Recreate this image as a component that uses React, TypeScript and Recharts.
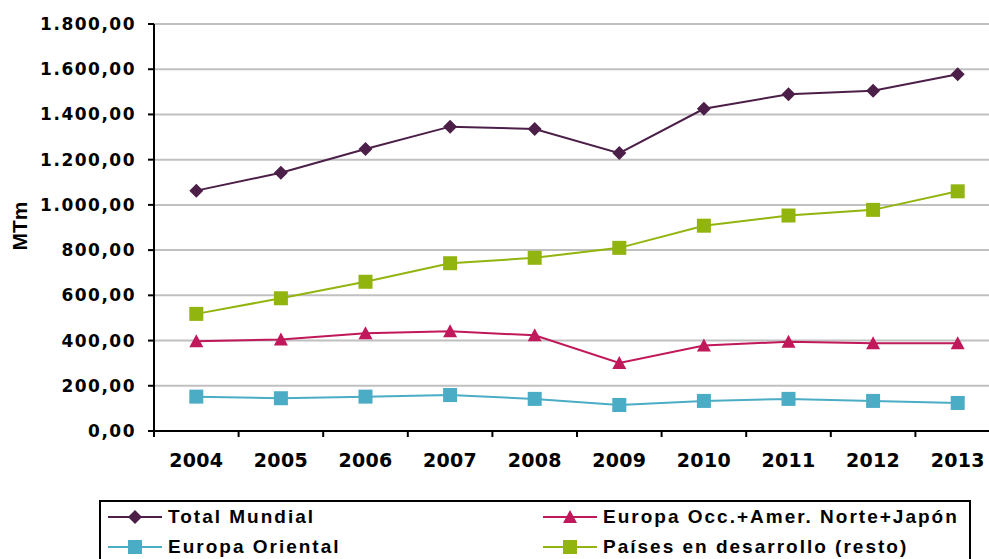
import { LineChart, Line, XAxis, YAxis, CartesianGrid } from 'recharts';

const years = ['2004', '2005', '2006', '2007', '2008', '2009', '2010', '2011', '2012', '2013'];
const totalMundial = [1063, 1142, 1247, 1346, 1336, 1229, 1425, 1489, 1505, 1578];
const europaOcc = [397, 405, 432, 441, 423, 301, 378, 395, 388, 388];
const europaOriental = [152, 145, 152, 159, 142, 115, 133, 142, 133, 124];
const paisesDesarrollo = [518, 587, 660, 742, 766, 810, 908, 953, 978, 1060];
const yTicks = [0, 200, 400, 600, 800, 1000, 1200, 1400, 1600, 1800];

const C_TOTAL = '#4b1f48';
const C_OCC = '#c0185a';
const C_ORI = '#4bacc6';
const C_DES = '#92b40e';

const chartData = years.map((year, i) => ({
  year,
  total: totalMundial[i],
  occ: europaOcc[i],
  ori: europaOriental[i],
  des: paisesDesarrollo[i],
}));

// 1.800,00 style (Spanish/European format, grouping always on)
const formatEs = (v: number): string => {
  const [int, dec] = v.toFixed(2).split('.');
  return int.replace(/\B(?=(\d{3})+(?!\d))/g, '.') + ',' + dec;
};

const FONT = '"DejaVu Sans", Verdana, sans-serif';
const HALF_BAND = 42.3; // half the category width, ticks sit between years
const TICK_MARGIN = 8;

const Diamond = ({ cx, cy, color }: any) => (
  <polygon points={`${cx},${cy - 7} ${cx + 7},${cy} ${cx},${cy + 7} ${cx - 7},${cy}`} fill={color} />
);
const Square = ({ cx, cy, color }: any) => (
  <rect x={cx - 7} y={cy - 7} width={14} height={14} fill={color} />
);
const Triangle = ({ cx, cy, color }: any) => (
  <polygon points={`${cx},${cy - 7} ${cx + 7},${cy + 6} ${cx - 7},${cy + 6}`} fill={color} />
);

const YearTick = ({ x, y, payload }: any) => {
  const axisY = y - 6 - TICK_MARGIN;
  return (
    <g>
      <line x1={x - HALF_BAND} y1={axisY} x2={x - HALF_BAND} y2={axisY + 6} stroke="#000" strokeWidth={2} />
      <text
        x={x}
        y={y + 9}
        dy="0.71em"
        textAnchor="middle"
        fill="#000"
        fontFamily={FONT}
        fontWeight="bold"
        fontSize={19}
        letterSpacing={0.3}
      >
        {payload.value}
      </text>
    </g>
  );
};

const LegendItem = ({ label, color, Marker }: any) => (
  <div style={{ display: 'flex', alignItems: 'center', height: 30 }}>
    <svg width={54} height={16} style={{ marginRight: 6 }}>
      <line x1={0} y1={8} x2={54} y2={8} stroke={color} strokeWidth={2} />
      <Marker cx={27} cy={8} color={color} />
    </svg>
    <span>{label}</span>
  </div>
);

const App = () => {
  return (
    <div style={{ position: 'fixed', left: 0, top: 0, width: 989, height: 559, overflow: 'hidden', background: '#fff' }}>
      <LineChart width={1010} height={559} data={chartData} margin={{ top: 24, right: 10, left: 0, bottom: 88 }}>
        <CartesianGrid vertical={false} stroke="#c0c0c0" strokeWidth={2} />
        <XAxis
          dataKey="year"
          height={40}
          padding={{ left: HALF_BAND, right: HALF_BAND }}
          stroke="#000"
          strokeWidth={2}
          tickSize={6}
          tickMargin={TICK_MARGIN}
          tickLine={{ stroke: 'none' }}
          tick={<YearTick />}
        />
        <YAxis
          width={154}
          domain={[0, 1800]}
          ticks={yTicks}
          interval={0}
          stroke="#000"
          strokeWidth={2}
          tickSize={6}
          tickMargin={12}
          tickFormatter={formatEs}
          tick={{ fill: '#000', fontFamily: FONT, fontWeight: 'bold', fontSize: 17, letterSpacing: 1.5 }}
          label={{
            content: () => (
              <text
                x={27}
                y={226}
                transform="rotate(-90 27 226)"
                textAnchor="middle"
                fontFamily='"Liberation Sans", Arial, sans-serif'
                fontWeight="bold"
                fontSize={21}
                fill="#000"
              >
                MTm
              </text>
            ),
          }}
        />
        <Line
          dataKey="total"
          stroke={C_TOTAL}
          strokeWidth={2}
          isAnimationActive={false}
          dot={(p: any) => <Diamond key={p.index} cx={p.cx} cy={p.cy} color={C_TOTAL} />}
        />
        <Line
          dataKey="des"
          stroke={C_DES}
          strokeWidth={2}
          isAnimationActive={false}
          dot={(p: any) => <Square key={p.index} cx={p.cx} cy={p.cy} color={C_DES} />}
        />
        <Line
          dataKey="occ"
          stroke={C_OCC}
          strokeWidth={2}
          isAnimationActive={false}
          dot={(p: any) => <Triangle key={p.index} cx={p.cx} cy={p.cy} color={C_OCC} />}
        />
        <Line
          dataKey="ori"
          stroke={C_ORI}
          strokeWidth={2}
          isAnimationActive={false}
          dot={(p: any) => <Square key={p.index} cx={p.cx} cy={p.cy} color={C_ORI} />}
        />
      </LineChart>
      <div
        style={{
          position: 'absolute',
          left: 99,
          top: 500,
          width: 872,
          height: 80,
          border: '2px solid #000',
          boxSizing: 'border-box',
          padding: '0 0 0 7px',
          display: 'grid',
          gridTemplateColumns: '435px 420px',
          gridAutoRows: 30,
          fontFamily: '"Liberation Sans", Arial, sans-serif',
          fontWeight: 'bold',
          fontSize: 19,
          letterSpacing: 2,
          color: '#000',
        }}
      >
        <LegendItem label="Total Mundial" color={C_TOTAL} Marker={Diamond} />
        <LegendItem label="Europa Occ.+Amer. Norte+Japón" color={C_OCC} Marker={Triangle} />
        <LegendItem label="Europa Oriental" color={C_ORI} Marker={Square} />
        <LegendItem label="Países en desarrollo (resto)" color={C_DES} Marker={Square} />
      </div>
    </div>
  );
};

export default App;
